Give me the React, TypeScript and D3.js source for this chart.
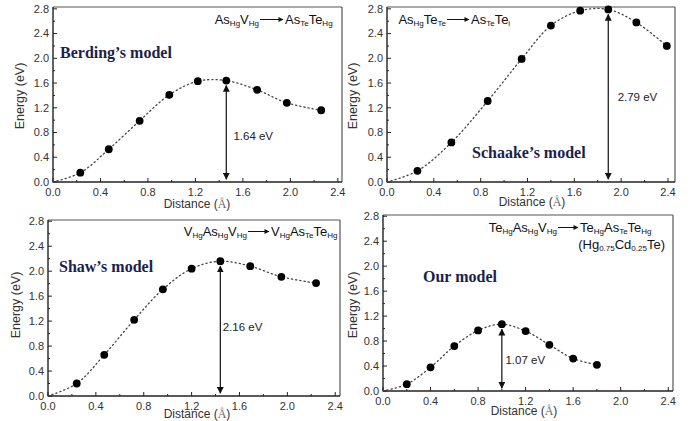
import React from "react";
import * as d3 from "d3";

// ---------- data ----------
const berdingX = [0.23, 0.47, 0.73, 0.98, 1.22, 1.46, 1.72, 1.97, 2.26];
const berdingY = [0.15, 0.53, 0.99, 1.41, 1.63, 1.64, 1.49, 1.28, 1.16];
const schaakeX = [0.26, 0.55, 0.86, 1.15, 1.4, 1.65, 1.89, 2.13, 2.39];
const schaakeY = [0.18, 0.64, 1.31, 1.99, 2.53, 2.77, 2.79, 2.58, 2.2];
const shawX = [0.24, 0.47, 0.72, 0.96, 1.2, 1.44, 1.69, 1.95, 2.24];
const shawY = [0.2, 0.66, 1.22, 1.71, 2.04, 2.16, 2.08, 1.91, 1.81];
const oursX = [0.2, 0.4, 0.6, 0.8, 1.0, 1.2, 1.4, 1.6, 1.8];
const oursY = [0.11, 0.38, 0.72, 0.97, 1.07, 0.96, 0.74, 0.52, 0.42];
const curveOrigin: [number, number] = [0, 0];

const xTickVals = [0, 0.4, 0.8, 1.2, 1.6, 2.0, 2.4];
const yTickVals = [0, 0.4, 0.8, 1.2, 1.6, 2.0, 2.4, 2.8];
const xMinorVals = [0.2, 0.6, 1.0, 1.4, 1.8, 2.2];
const yMinorVals = [0.2, 0.6, 1.0, 1.4, 1.8, 2.2, 2.6];

const modelNames = ["Berding\u2019s model", "Schaake\u2019s model", "Shaw\u2019s model", "Our model"];
const barrierValues = [1.64, 2.79, 2.16, 1.07];
const barrierLabels = ["1.64 eV", "2.79 eV", "2.16 eV", "1.07 eV"];

type Seg = { t: string; sub?: boolean };
const reactLeft: Seg[][] = [
  [{ t: "As" }, { t: "Hg", sub: true }, { t: "V" }, { t: "Hg", sub: true }],
  [{ t: "As" }, { t: "Hg", sub: true }, { t: "Te" }, { t: "Te", sub: true }],
  [{ t: "V" }, { t: "Hg", sub: true }, { t: "As" }, { t: "Hg", sub: true }, { t: "V" }, { t: "Hg", sub: true }],
  [{ t: "Te" }, { t: "Hg", sub: true }, { t: "As" }, { t: "Hg", sub: true }, { t: "V" }, { t: "Hg", sub: true }],
];
const reactRight: Seg[][] = [
  [{ t: "As" }, { t: "Te", sub: true }, { t: "Te" }, { t: "Hg", sub: true }],
  [{ t: "As" }, { t: "Te", sub: true }, { t: "Te" }, { t: "i", sub: true }],
  [{ t: "V" }, { t: "Hg", sub: true }, { t: "As" }, { t: "Te", sub: true }, { t: "Te" }, { t: "Hg", sub: true }],
  [{ t: "Te" }, { t: "Hg", sub: true }, { t: "As" }, { t: "Te", sub: true }, { t: "Te" }, { t: "Hg", sub: true }],
];
const compositionLine: Seg[] = [
  { t: "(Hg" }, { t: "0.75", sub: true }, { t: "Cd" }, { t: "0.25", sub: true }, { t: "Te)" },
];

// ---------- layout ----------
type Panel = {
  xs: number[]; ys: number[];
  left: number; right: number; top: number; bottom: number;
  xMax: number; yMax: number;
  arrowX: number; arrowBottom: number; arrowTopGap: number;
  labelX: number; labelY: number;
  nameX: number; nameY: number;
  rl: [number, number, number]; // arrowStart, arrowEnd, y
  energyX: number; energyY: number;
  distX: number; distY: number;
};

const panels: Panel[] = [
  {
    xs: berdingX, ys: berdingY, left: 53, right: 342, top: 7, bottom: 182, xMax: 2.435, yMax: 2.83,
    arrowX: 1.46, arrowBottom: 0.03, arrowTopGap: 0.08, labelX: 1.52, labelY: 0.74,
    nameX: 60, nameY: 58, rl: [260, 284, 24], energyX: 24, energyY: 96, distX: 197, distY: 208,
  },
  {
    xs: schaakeX, ys: schaakeY, left: 387, right: 675, top: 7, bottom: 182, xMax: 2.46, yMax: 2.83,
    arrowX: 1.89, arrowBottom: 0.03, arrowTopGap: 0.08, labelX: 1.97, labelY: 1.38,
    nameX: 472, nameY: 158, rl: [447, 470, 24], energyX: 357, energyY: 96, distX: 532, distY: 206,
  },
  {
    xs: shawX, ys: shawY, left: 48, right: 340, top: 220, bottom: 396, xMax: 2.44, yMax: 2.82,
    arrowX: 1.44, arrowBottom: 0.03, arrowTopGap: 0.08, labelX: 1.46, labelY: 1.1,
    nameX: 59, nameY: 272, rl: [248, 270, 236], energyX: 20, energyY: 305, distX: 197, distY: 418,
  },
  {
    xs: oursX, ys: oursY, left: 383, right: 673, top: 215, bottom: 391, xMax: 2.44, yMax: 2.82,
    arrowX: 1.0, arrowBottom: 0.03, arrowTopGap: 0.08, labelX: 1.03, labelY: 0.49,
    nameX: 423, nameY: 282, rl: [558, 579, 232], energyX: 357, energyY: 305, distX: 524, distY: 415,
  },
];

const sans = "'Liberation Sans', Arial, sans-serif";
const serif = "'Liberation Serif', 'Times New Roman', serif";

function Segs({ segs, x, y, anchor, size }: { segs: Seg[]; x: number; y: number; anchor: string; size: number }) {
  return (
    <text x={x} y={y} textAnchor={anchor} fontFamily={sans} fontSize={size} fill="#111">
      {segs.map((s, i) => {
        const prevSub = i > 0 && segs[i - 1].sub;
        let dy = 0;
        if (s.sub && !prevSub) dy = 1.5;
        if (!s.sub && prevSub) dy = -1.5;
        return (
          <tspan key={i} dy={dy} fontSize={s.sub ? 8 : size}>
            {s.t}
          </tspan>
        );
      })}
    </text>
  );
}

function PanelView({ p, idx }: { p: Panel; idx: number }) {
  const x = d3.scaleLinear().domain([0, p.xMax]).range([p.left, p.right]);
  const y = d3.scaleLinear().domain([0, p.yMax]).range([p.bottom, p.top]);
  const pts: [number, number][] = p.xs.map((v, i) => [v, p.ys[i]]);
  const line = d3
    .line<[number, number]>()
    .x((d) => x(d[0]))
    .y((d) => y(d[1]))
    .curve(d3.curveCatmullRom.alpha(0.5));
  const path = line([curveOrigin, ...pts]) || "";
  const peak = barrierValues[idx];
  const [as, ae, ry] = p.rl;
  return (
    <g>
      {/* frame */}
      <line x1={p.left} x2={p.right} y1={p.top} y2={p.top} stroke="#555" strokeWidth={1.2} />
      <line x1={p.right} x2={p.right} y1={p.top} y2={p.bottom} stroke="#555" strokeWidth={1.2} />
      <line x1={p.left} x2={p.right} y1={p.bottom} y2={p.bottom} stroke="#222" strokeWidth={1.4} />
      <line x1={p.left} x2={p.left} y1={p.top} y2={p.bottom} stroke="#222" strokeWidth={1.4} />
      {/* ticks */}
      {xTickVals.map((v) => (
        <g key={"xt" + v}>
          <line x1={x(v)} x2={x(v)} y1={p.bottom} y2={p.bottom - 4} stroke="#222" strokeWidth={1} />
          <text x={x(v)} y={p.bottom + 14} textAnchor="middle" fontFamily={sans} fontSize={11} fill="#333">
            {v.toFixed(1)}
          </text>
        </g>
      ))}
      {xMinorVals.map((v) => (
        <line key={"xm" + v} x1={x(v)} x2={x(v)} y1={p.bottom} y2={p.bottom - 2} stroke="#222" strokeWidth={1} />
      ))}
      {yTickVals.map((v) => (
        <g key={"yt" + v}>
          <line x1={p.left} x2={p.left + 4} y1={y(v)} y2={y(v)} stroke="#222" strokeWidth={1} />
          <text x={p.left - 4} y={y(v)} dy="0.35em" textAnchor="end" fontFamily={sans} fontSize={11} fill="#333">
            {v.toFixed(1)}
          </text>
        </g>
      ))}
      {yMinorVals.map((v) => (
        <line key={"ym" + v} x1={p.left} x2={p.left + 2} y1={y(v)} y2={y(v)} stroke="#222" strokeWidth={1} />
      ))}
      {/* axis titles */}
      <text
        transform={`translate(${p.energyX},${p.energyY}) rotate(-90)`}
        textAnchor="middle"
        fontFamily={sans}
        fontSize={12.5}
        fill="#333"
      >
        Energy (eV)
      </text>
      <text x={p.distX} y={p.distY} textAnchor="middle" fontFamily={sans} fontSize={12} fill="#333">
        Distance (<tspan fontFamily={serif} fill="#666">Å</tspan>)
      </text>
      {/* curve + points */}
      <path d={path} fill="none" stroke="#444" strokeWidth={1.3} strokeDasharray="1.2,3" strokeLinecap="round" />
      {pts.map((d, i) => (
        <circle key={i} cx={x(d[0])} cy={y(d[1])} r={3.9} fill="#000" />
      ))}
      {/* barrier arrow */}
      <line
        x1={x(p.arrowX)}
        x2={x(p.arrowX)}
        y1={y(p.arrowBottom) - 1}
        y2={y(peak - p.arrowTopGap)}
        stroke="#111"
        strokeWidth={1.2}
        markerStart="url(#arrowHead)"
        markerEnd="url(#arrowHead)"
      />
      <text x={x(p.labelX)} y={y(p.labelY)} dy="0.35em" fontFamily={sans} fontSize={11.5} fill="#222">
        {barrierLabels[idx]}
      </text>
      {/* model name */}
      <text x={p.nameX} y={p.nameY} fontFamily={serif} fontWeight="bold" fontSize={16} fill="#1c1f4a">
        {modelNames[idx]}
      </text>
      {/* reaction */}
      <Segs segs={reactLeft[idx]} x={as - 1} y={ry} anchor="end" size={13} />
      <line x1={as} x2={ae - 1} y1={ry - 4.5} y2={ry - 4.5} stroke="#111" strokeWidth={1} markerEnd="url(#reactHead)" />
      <Segs segs={reactRight[idx]} x={ae + 1} y={ry} anchor="start" size={13} />
      {idx === 3 && <Segs segs={compositionLine} x={665} y={ry + 17} anchor="end" size={13} />}
    </g>
  );
}

export default function App() {
  return (
    <svg width={694} height={421} style={{ position: "absolute", left: 0, top: 0, background: "#fff" }}>
      <defs>
        <marker id="arrowHead" viewBox="0 0 10 10" refX="9" refY="5" markerWidth="7" markerHeight="7"
          markerUnits="userSpaceOnUse" orient="auto-start-reverse">
          <path d="M0,0 L10,5 L0,10 Z" fill="#111" />
        </marker>
        <marker id="reactHead" viewBox="0 0 10 10" refX="9" refY="5" markerWidth="6" markerHeight="5"
          markerUnits="userSpaceOnUse" orient="auto">
          <path d="M0,0 L10,5 L0,10 Z" fill="#111" />
        </marker>
      </defs>
      <rect x={0} y={0} width={694} height={421} fill="#fff" />
      {panels.map((p, i) => (
        <PanelView key={i} p={p} idx={i} />
      ))}
    </svg>
  );
}
